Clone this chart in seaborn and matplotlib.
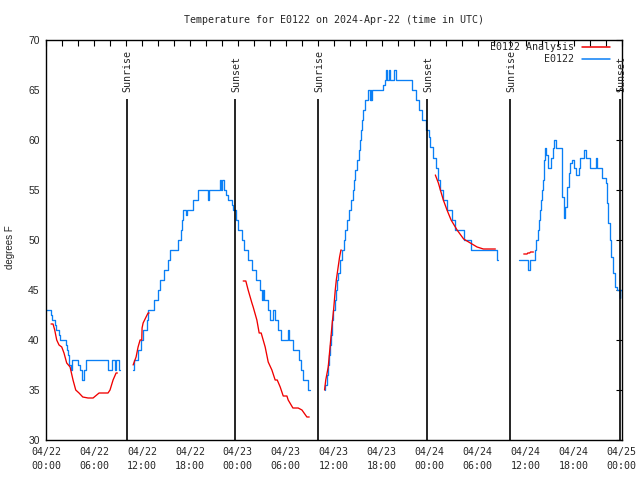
import numpy as np
import pandas as pd
import matplotlib
matplotlib.use("Agg")
import matplotlib.pyplot as plt
from matplotlib.lines import Line2D
from matplotlib.ticker import MultipleLocator
import seaborn as sns

# ---------------- data (hours since 2024-04-22 00:00 UTC, degrees F) ----------------
# Observed station series "E0122", one list pair per continuous stretch
obs_hours_1 = [0.0, 0.63, 0.8, 1.13, 1.25, 1.63, 1.7, 2.46, 2.59, 2.71, 2.92, 3.09, 3.22, 4.0, 4.26,
               4.55, 4.8, 5.02, 7.76, 8.2, 8.64, 8.73, 9.1, 9.3]
obs_temps_1 = [43, 42.5, 42, 41.5, 41, 40.5, 40, 39.5, 39, 38.5, 37.5, 37, 38, 37.5, 37,
               36, 37, 38, 37, 38, 37, 38, 37, 37]
obs_hours_2 = [10.93, 11.02, 11.52, 11.9, 12.15, 12.61, 12.77, 13.52, 13.99, 14.27, 14.78, 15.24, 15.53,
               16.53, 16.9, 17.03, 17.16, 17.55, 17.66, 18.41, 19.03, 20.22, 20.35,
               21.74, 21.87, 22.08, 22.21, 22.52, 22.71,
               23.25, 23.42, 23.79, 24.04, 24.51, 24.79, 25.29, 25.76,
               26.3, 26.8, 27.01, 27.18, 27.3, 27.8, 28.05, 28.43, 28.68, 29.05, 29.39, 30.24, 30.43,
               30.87, 31.68, 31.89, 32.14, 32.81, 33.06]
obs_temps_2 = [37, 38, 39, 40, 41, 42, 43, 44, 45, 46, 47, 48, 49,
               50, 51, 52, 53, 52.5, 53, 54, 55, 54, 55,
               56, 55, 56, 55, 54.5, 54,
               53.5, 53, 52, 51, 50, 49, 48, 47,
               46, 45, 44, 45, 44, 43, 42, 43, 42, 41, 40, 41, 40,
               39, 38, 37, 36, 35, 35]
obs_hours_3 = [34.85, 34.94, 35.15, 35.27, 35.44, 35.56, 35.69, 35.81, 35.9, 36.1, 36.28, 36.4, 36.53,
               36.73, 37.03, 37.23, 37.44, 37.65, 37.94, 38.19, 38.35, 38.48, 38.69, 38.91, 39.11, 39.32,
               39.4, 39.53, 39.66, 39.86,
               40.33, 40.5, 40.62, 40.71, 40.83,
               42.2, 42.36, 42.56, 42.69, 42.94, 43.06, 43.6, 43.73,
               45.79, 46.29, 46.62, 47.04,
               47.54, 47.87, 48.08, 48.46, 48.84, 49.09, 49.34, 49.67, 50.17, 50.8, 51.21, 52.25, 53.22,
               56.43, 56.5]
obs_temps_3 = [35, 35.5, 36.5, 37.5, 38.5, 39.5, 40.5, 42, 43, 44, 45, 46, 46.7,
               48, 49, 50, 51, 52, 53, 54, 55, 56, 57, 58, 59, 60,
               61, 62, 63, 64,
               65, 64, 65, 64, 65,
               65.5, 66, 67, 66, 67, 66, 67, 66,
               65, 64, 63, 62,
               61, 60.3, 59.3, 58.2, 57.2, 56, 55, 54, 53, 52, 51, 50, 49,
               48, 48]
obs_hours_4 = [59.23, 60.27, 60.61, 61.23, 61.36, 61.52, 61.65, 61.86, 61.98, 62.07, 62.2, 62.27, 62.36,
               62.48, 62.61, 62.77, 63.19, 63.39, 63.6, 63.81, 64.57, 64.78, 64.99, 65.2, 65.4, 65.61,
               65.83, 66.03, 66.37, 66.68, 66.87, 67.28, 67.62, 68.03, 68.78, 68.93, 69.58, 70.0, 70.21,
               70.34, 70.5, 70.71, 70.96, 71.16, 71.46, 71.79, 71.87, 72.0]
obs_temps_4 = [48, 47, 48, 49, 50, 51, 52, 53, 54, 55, 56, 57, 58,
               59.2, 58.5, 57.2, 58.2, 59.2, 60, 59.2, 54.3, 52.2, 53.3, 55.3, 56.7, 57.7,
               58, 57.2, 56.5, 57.2, 58.2, 59, 58.2, 57.2, 58.2, 57.2, 56.2, 55.7, 53.7,
               51.7, 50, 48.3, 46.7, 45.3, 45, 44.2, 45, 45]

# Analysis series "E0122 Analysis"
ana_hours_1 = [0.63, 0.88, 1.09, 1.34, 1.63, 1.97, 2.25, 2.59, 3.01, 3.38, 3.72, 4.13, 4.6, 5.26, 5.89,
               6.64, 7.76, 8.01, 8.39, 8.77, 8.93]
ana_temps_1 = [41.6, 41.6, 41, 40, 39.5, 39.3, 38.7, 37.7, 37.3, 36, 35, 34.7, 34.3, 34.2, 34.2,
               34.7, 34.7, 35, 36, 36.7, 36.7]
ana_hours_2 = [10.9, 11.27, 11.52, 11.77, 11.98, 12.02, 12.15, 12.52, 12.77, 12.9]
ana_temps_2 = [37.5, 38.3, 39.3, 40, 40, 41.2, 41.7, 42.3, 42.7, 42.7]
ana_hours_3 = [24.67, 25.0, 25.29, 25.76, 25.92, 26.38, 26.67, 26.92, 27.42, 27.8, 28.26, 28.67, 28.93,
               29.3, 29.68, 30.14, 30.3, 30.89, 31.55, 32.02, 32.64, 32.93]
ana_temps_3 = [45.9, 45.9, 45, 43.7, 43.3, 42, 40.7, 40.7, 39.3, 37.8, 37, 36, 36,
               35.3, 34.4, 34.4, 34, 33.2, 33.2, 33, 32.3, 32.3]
ana_hours_4 = [34.85, 35.0, 35.31, 35.56, 35.81, 35.98, 36.19, 36.32, 36.73, 36.9, 36.94]
ana_temps_4 = [35, 36, 37.3, 39.5, 41.7, 43, 45, 46, 48.3, 49, 49]
ana_hours_5 = [48.71, 49.09, 49.34, 49.71, 50.17, 50.68, 51.43, 52.25, 53.09, 53.93, 54.72, 56.22]
ana_temps_5 = [56.5, 55.7, 55, 54, 53, 52, 51, 50.1, 49.7, 49.3, 49.1, 49.1]
ana_hours_6 = [59.77, 60.19, 60.27, 60.52, 60.61, 60.98]
ana_temps_6 = [48.6, 48.6, 48.7, 48.7, 48.8, 48.8]

sun_hours = [10.14, 23.67, 34.06, 47.71, 58.1, 71.86]
sun_labels = ["Sunrise", "Sunset", "Sunrise", "Sunset", "Sunrise", "Sunset"]

tick_days = ["04/22", "04/22", "04/22", "04/22", "04/23", "04/23", "04/23", "04/23",
             "04/24", "04/24", "04/24", "04/24", "04/25"]
tick_times = ["00:00", "06:00", "12:00", "18:00"] * 3 + ["00:00"]

title = "Temperature for E0122 on 2024-Apr-22 (time in UTC)"
series_names = ["E0122 Analysis", "E0122"]
ylabel = "degrees F"


def build(pairs):
    frames = []
    for i, (hrs, tmp) in enumerate(pairs):
        n = min(len(hrs), len(tmp))
        frames.append(pd.DataFrame({"hour": hrs[:n], "temp": tmp[:n], "seg": i}))
    return pd.concat(frames, ignore_index=True)


obs = build([(obs_hours_1, obs_temps_1), (obs_hours_2, obs_temps_2),
             (obs_hours_3, obs_temps_3), (obs_hours_4, obs_temps_4)])
ana = build([(ana_hours_1, ana_temps_1), (ana_hours_2, ana_temps_2), (ana_hours_3, ana_temps_3),
             (ana_hours_4, ana_temps_4), (ana_hours_5, ana_temps_5), (ana_hours_6, ana_temps_6)])

# ---------------- plot ----------------
sns.set_style("white")
plt.rcParams["font.family"] = ["DejaVu Sans Mono"]
mono = 7.2

blue = "#0a7ff5"
red = "#f00000"

fig = plt.figure(figsize=(6.4, 4.8), dpi=100)
ax = fig.add_axes([46 / 640, 40 / 480, 575.5 / 640, 400 / 480])

sns.lineplot(data=obs, x="hour", y="temp", units="seg", estimator=None, color=blue,
             lw=0.95, drawstyle="steps-post", ax=ax, legend=False)
sns.lineplot(data=ana, x="hour", y="temp", units="seg", estimator=None, color=red,
             lw=0.95, ax=ax, legend=False)

ax.vlines(sun_hours, 30, 64.1, color="black", lw=1.2)
for h, lab in zip(sun_hours, sun_labels):
    ax.text(h + 0.1, 64.8, lab, rotation=90, ha="center", va="bottom", fontsize=mono,
            family="DejaVu Sans Mono")

ax.set_xlim(0, 72)
ax.set_ylim(30, 70)
ax.set_xticks(np.arange(0, 73, 6))
ax.set_xticklabels([f"{d}\n{t}" for d, t in zip(tick_days, tick_times)], fontsize=mono,
                   family="DejaVu Sans Mono", linespacing=1.5)
ax.xaxis.set_minor_locator(MultipleLocator(2))
ax.set_yticks(np.arange(30, 71, 5))
ax.set_yticklabels([str(v) for v in range(30, 71, 5)], fontsize=7.5, family="Liberation Sans")
ax.tick_params(axis="both", which="both", direction="in", top=True, right=True,
               length=4, width=0.8, color="black")
ax.tick_params(axis="x", which="both", pad=5)
ax.tick_params(axis="y", pad=4.5)
ax.set_xlabel("")
ax.set_ylabel("")
for s in ax.spines.values():
    s.set_color("black")
    s.set_linewidth(1.0)

ax.set_title(title, fontsize=mono, family="DejaVu Sans Mono", pad=12)
fig.text(10 / 640, 1 - 247 / 480, ylabel, rotation=90, ha="center", va="center",
         fontsize=7, family="Liberation Sans")

handles = [Line2D([], [], color=red, lw=1.1), Line2D([], [], color=blue, lw=1.1)]
ax.legend(handles, series_names, loc="upper right", bbox_to_anchor=(610 / 640, 1 - 42 / 480),
          bbox_transform=fig.transFigure, frameon=False, markerfirst=False,
          prop={"family": "DejaVu Sans Mono", "size": mono}, handlelength=2.8,
          handletextpad=0.8, labelspacing=0.25, borderpad=0, borderaxespad=0)

fig.savefig("out.png", dpi=100)
